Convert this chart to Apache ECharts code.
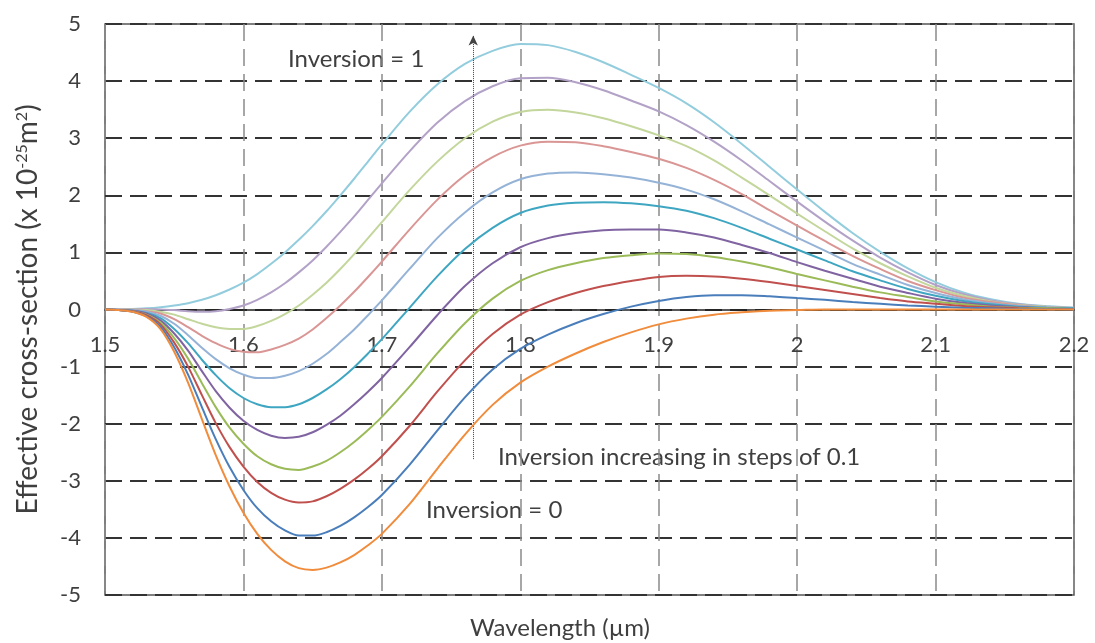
<!DOCTYPE html>
<html>
<head>
<meta charset="utf-8">
<script src="https://cdn.jsdelivr.net/npm/echarts@6/dist/echarts.min.js"></script>
<style>
html,body{margin:0;padding:0;background:#fff;}
#chart{width:1095px;height:643px;}
</style>
</head>
<body>
<div id="chart"></div>
<script>
// Wavelength (µm)
const wavelength = [1.50,1.51,1.52,1.53,1.54,1.55,1.56,1.57,1.58,1.59,1.60,1.61,1.62,1.63,1.64,1.65,1.66,1.67,1.68,1.69,1.70,
  1.72,1.74,1.76,1.78,1.80,1.82,1.84,1.86,1.88,1.90,1.92,1.94,1.96,1.98,2.00,
  2.02,2.04,2.06,2.08,2.10,2.12,2.14,2.16,2.18,2.20];

// Effective cross-section (x 1e-25 m^2), inversion 0 .. 1 in steps of 0.1
const inv00 = [0,-0.01,-0.04,-0.13,-0.34,-0.74,-1.28,-1.92,-2.55,-3.10,-3.56,-3.93,-4.21,-4.41,-4.53,-4.56,-4.52,-4.43,-4.30,-4.13,-3.93,
  -3.41,-2.79,-2.19,-1.67,-1.28,-1.00,-0.77,-0.57,-0.40,-0.26,-0.16,-0.09,-0.05,-0.02,-0.01,
  0,0,0,0,0,0,0,0,0,0];
const inv01 = [0,-0.01,-0.04,-0.12,-0.30,-0.66,-1.14,-1.71,-2.27,-2.76,-3.16,-3.48,-3.71,-3.87,-3.96,-3.96,-3.90,-3.79,-3.64,-3.46,-3.25,
  -2.72,-2.12,-1.54,-1.05,-0.69,-0.44,-0.24,-0.08,0.05,0.15,0.22,0.25,0.25,0.23,0.20,
  0.17,0.13,0.10,0.07,0.05,0.03,0.02,0.01,0.01,0];
const inv02 = [0,-0.01,-0.03,-0.10,-0.26,-0.58,-1.00,-1.50,-1.99,-2.41,-2.75,-3.02,-3.21,-3.33,-3.38,-3.36,-3.27,-3.14,-2.98,-2.79,-2.57,
  -2.04,-1.44,-0.89,-0.43,-0.09,0.13,0.29,0.41,0.50,0.57,0.59,0.58,0.54,0.48,0.41,
  0.34,0.27,0.20,0.14,0.10,0.06,0.04,0.02,0.01,0.01];
const inv03 = [0,-0.01,-0.03,-0.09,-0.23,-0.50,-0.86,-1.29,-1.71,-2.07,-2.35,-2.57,-2.71,-2.79,-2.81,-2.75,-2.65,-2.50,-2.32,-2.11,-1.88,
  -1.35,-0.77,-0.24,0.19,0.50,0.69,0.81,0.90,0.95,0.98,0.97,0.92,0.84,0.74,0.62,
  0.51,0.40,0.30,0.22,0.14,0.09,0.05,0.03,0.02,0.01];
const inv04 = [0,-0.01,-0.02,-0.07,-0.19,-0.42,-0.72,-1.08,-1.43,-1.72,-1.95,-2.11,-2.21,-2.25,-2.23,-2.15,-2.02,-1.86,-1.66,-1.44,-1.20,
  -0.66,-0.10,0.41,0.81,1.09,1.25,1.34,1.39,1.40,1.40,1.35,1.26,1.13,0.99,0.83,
  0.68,0.54,0.40,0.29,0.19,0.12,0.07,0.04,0.02,0.01];
const inv05 = [0,-0.01,-0.02,-0.06,-0.15,-0.34,-0.59,-0.88,-1.15,-1.38,-1.55,-1.66,-1.71,-1.71,-1.66,-1.55,-1.40,-1.22,-1.01,-0.77,-0.52,
  0.03,0.58,1.06,1.43,1.69,1.82,1.87,1.88,1.86,1.81,1.73,1.60,1.43,1.24,1.05,
  0.86,0.67,0.51,0.36,0.24,0.15,0.09,0.05,0.03,0.02];
const inv06 = [0,0,-0.01,-0.04,-0.11,-0.25,-0.45,-0.67,-0.87,-1.03,-1.14,-1.20,-1.20,-1.16,-1.08,-0.95,-0.78,-0.57,-0.35,-0.10,0.16,
  0.71,1.25,1.70,2.05,2.28,2.38,2.40,2.37,2.31,2.22,2.10,1.93,1.72,1.49,1.26,
  1.03,0.80,0.61,0.43,0.29,0.18,0.11,0.06,0.04,0.02];
const inv07 = [0,0,-0.01,-0.03,-0.07,-0.17,-0.31,-0.46,-0.59,-0.69,-0.74,-0.75,-0.70,-0.62,-0.51,-0.35,-0.15,0.07,0.31,0.57,0.84,
  1.40,1.92,2.35,2.67,2.87,2.94,2.93,2.86,2.76,2.64,2.48,2.27,2.02,1.74,1.47,
  1.20,0.94,0.71,0.50,0.34,0.21,0.13,0.07,0.04,0.02];
const inv08 = [0,0,0,-0.01,-0.04,-0.09,-0.17,-0.25,-0.31,-0.34,-0.34,-0.29,-0.20,-0.08,0.07,0.26,0.47,0.71,0.97,1.25,1.53,
  2.09,2.59,3.00,3.29,3.46,3.50,3.45,3.35,3.21,3.05,2.86,2.61,2.31,2.00,1.68,
  1.37,1.07,0.81,0.58,0.38,0.24,0.14,0.08,0.05,0.02];
const inv09 = [0,0,0.01,0.01,0,-0.01,-0.03,-0.04,-0.03,0.01,0.07,0.17,0.30,0.46,0.65,0.86,1.10,1.36,1.63,1.92,2.21,
  2.77,3.27,3.65,3.91,4.05,4.06,3.98,3.84,3.66,3.47,3.23,2.94,2.61,2.25,1.89,
  1.54,1.21,0.91,0.65,0.43,0.27,0.16,0.09,0.05,0.03];
const inv10 = [0,0,0.01,0.02,0.04,0.07,0.11,0.17,0.25,0.35,0.47,0.62,0.80,1.00,1.22,1.46,1.72,2.00,2.29,2.59,2.89,
  3.46,3.94,4.30,4.53,4.65,4.63,4.51,4.33,4.11,3.88,3.61,3.28,2.90,2.50,2.10,
  1.71,1.34,1.01,0.72,0.48,0.30,0.18,0.10,0.06,0.03];

const seriesNames = ['Inversion 0','Inversion 0.1','Inversion 0.2','Inversion 0.3','Inversion 0.4','Inversion 0.5','Inversion 0.6','Inversion 0.7','Inversion 0.8','Inversion 0.9','Inversion 1'];
const seriesValues = [inv00,inv01,inv02,inv03,inv04,inv05,inv06,inv07,inv08,inv09,inv10];
const seriesColors = ['#F08C3C','#4A7EBB','#C0504D','#9BBB59','#8064A2','#3FA6C2','#95B3D7','#D99694','#C3D69B','#B3A2C7','#93CDDD'];

const xTicks = {min:1.5, max:2.2, interval:0.1};
const yTicks = {min:-5, max:5, interval:1};

const FONT = 'Lato, "Open Sans", "Noto Sans", sans-serif';
const TXT = '#3f3f3f';

const GRID = {left: 105, right: 21, top: 24, bottom: 48};
const chartH = 643;
// shift the x axis (line + labels) up to the y = 0 position
const zeroOffset = -((chartH - GRID.top - GRID.bottom) * (0 - yTicks.min) / (yTicks.max - yTicks.min));

const chart = echarts.init(document.getElementById('chart'), null, {renderer:'canvas'});

const series = seriesValues.map((vals, i) => ({
  name: seriesNames[i],
  type: 'line',
  data: vals.map((v, k) => [wavelength[k], v]),
  smooth: 0.3,
  showSymbol: false,
  symbol: 'none',
  silent: true,
  z: 3 + (10 - i),
  lineStyle: {color: seriesColors[i], width: 2},
  itemStyle: {color: seriesColors[i]}
}));

// dotted arrow "inversion increasing"
series[10].markLine = {
  silent: true,
  symbol: ['none', 'arrow'],
  symbolSize: [7, 10],
  lineStyle: {type: 'dotted', color: '#444', width: 1},
  label: {show: false},
  emphasis: {disabled: true},
  data: [[{coord: [1.766, -2.62]}, {coord: [1.766, 4.8]}]]
};

const option = {
  animation: false,
  backgroundColor: '#ffffff',
  grid: {left: GRID.left, right: GRID.right, top: GRID.top, bottom: GRID.bottom, show: true, borderColor: '#555', borderWidth: 1.5, backgroundColor: 'transparent'},
  xAxis: {
    type: 'value',
    min: xTicks.min, max: xTicks.max, interval: xTicks.interval,
    position: 'bottom',
    offset: zeroOffset,
    axisLine: {show: true, onZero: false, lineStyle: {color: '#222', width: 1.5}},
    axisTick: {show: false},
    axisLabel: {color: TXT, fontSize: 22, fontFamily: FONT, margin: 24},
    splitLine: {show: true, lineStyle: {color: '#8a8a8a', width: 1.5, type: [17, 8]}}
  },
  yAxis: {
    type: 'value',
    min: yTicks.min, max: yTicks.max, interval: yTicks.interval,
    axisLine: {show: false},
    axisTick: {show: false},
    axisLabel: {color: TXT, fontSize: 22, fontFamily: FONT, margin: 24},
    splitLine: {show: true, lineStyle: {color: '#333', width: 2, type: [17, 8]}},
    name: 'Effective cross-section (x 10{sup|-25}m{sup|2})',
    nameLocation: 'middle',
    nameGap: 63,
    nameRotate: 90,
    nameTextStyle: {
      color: TXT, fontSize: 28, fontFamily: FONT,
      rich: {sup: {fontSize: 16, fontFamily: FONT, color: TXT, verticalAlign: 'top', padding: [0, 0, 10, 0]}}
    }
  },
  graphic: [
    {type: 'text', x: 560, y: 628, silent: true, style: {text: 'Wavelength (\u00b5m)', font: '24px ' + FONT, fill: TXT, textAlign: 'center', textVerticalAlign: 'middle'}},
    {type: 'text', x: 288, y: 59, silent: true, style: {text: 'Inversion = 1', font: '24px ' + FONT, fill: TXT, textAlign: 'left', textVerticalAlign: 'middle'}},
    {type: 'text', x: 498, y: 457, silent: true, style: {text: 'Inversion increasing in steps of 0.1', font: '24px ' + FONT, fill: TXT, textAlign: 'left', textVerticalAlign: 'middle'}},
    {type: 'text', x: 426, y: 510, silent: true, style: {text: 'Inversion = 0', font: '24px ' + FONT, fill: TXT, textAlign: 'left', textVerticalAlign: 'middle'}}
  ],
  series: series
};
chart.setOption(option);
</script>
</body>
</html>
